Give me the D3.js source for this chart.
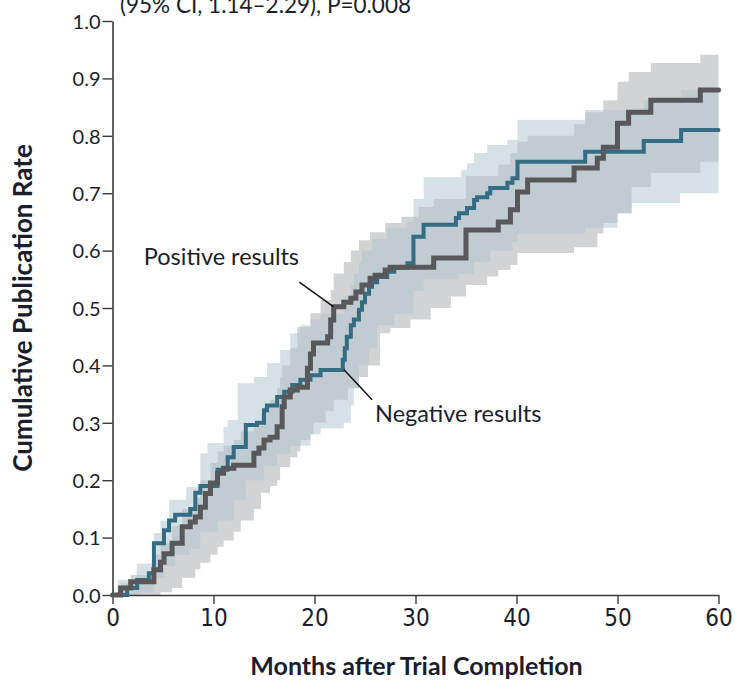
<!DOCTYPE html>
<html>
<head>
<meta charset="utf-8">
<script src="https://cdn.jsdelivr.net/npm/d3@7"></script>
<style>
  body { margin: 0; background: #fff; }
  svg text { font-family: Lato, "Open Sans", sans-serif; fill: #1b1d2b; }
</style>
</head>
<body>
<div id="chart"></div>
<script>
// cumulative publication rate
// [month, rate]
var positiveCurve = [[0,0],[0.8,0.012],[1.8,0.023],[4.1,0.044],[4.75,0.057],[5.1,0.072],[5.9,0.09],[6.9,0.119],
  [7.7,0.127],[8.2,0.136],[8.7,0.153],[9.2,0.177],[9.7,0.195],[10.4,0.212],[11.0,0.221],[12.0,0.226],[14.0,0.247],
  [14.5,0.256],[15.0,0.27],[15.6,0.275],[16.3,0.293],[16.8,0.328],[17.0,0.345],[17.6,0.357],[18.3,0.362],[19.3,0.395],
  [19.6,0.42],[19.9,0.439],[21.3,0.45],[21.6,0.479],[21.9,0.502],[22.9,0.51],[23.6,0.517],[24.1,0.528],[24.7,0.54],
  [25.5,0.552],[26.0,0.557],[27.0,0.566],[27.5,0.571],[31.8,0.587],[35.0,0.636],[38.2,0.65],[39.4,0.671],[40.1,0.702],
  [41.1,0.723],[45.7,0.744],[48.0,0.761],[48.6,0.78],[50.0,0.822],[51.1,0.841],[53.3,0.862],[58.2,0.88],[60,0.88]];

var negativeCurve = [[0,0],[1.45,0.012],[2.44,0.026],[3.6,0.038],[4.1,0.09],[5.1,0.113],[5.6,0.13],[6.2,0.14],
  [7.7,0.15],[8.2,0.178],[8.7,0.19],[10.4,0.218],[11.4,0.24],[12.0,0.258],[13.2,0.296],[14.3,0.3],[15.0,0.322],
  [15.3,0.33],[16.3,0.345],[17.0,0.354],[17.8,0.366],[18.6,0.375],[19.6,0.383],[20.6,0.392],[22.8,0.41],[23.0,0.43],
  [23.2,0.45],[23.6,0.47],[23.9,0.48],[24.4,0.497],[24.7,0.51],[25.0,0.525],[25.4,0.537],[25.7,0.545],[26.2,0.554],
  [27.2,0.563],[27.9,0.57],[29.2,0.578],[29.8,0.624],[30.8,0.645],[34.0,0.657],[34.3,0.665],[35.1,0.674],[35.8,0.688],
  [36.1,0.693],[37.1,0.70],[37.4,0.709],[39.1,0.718],[39.6,0.726],[40.1,0.755],[46.8,0.772],[52.6,0.791],[56.3,0.81],[60,0.81]];

// 95% bands: [month, lower, upper]
var positiveBand = [[0,0,0],[0.8,0,0.02],[1.8,0,0.035],[4.1,0,0.07],[4.75,0.005,0.09],[5.9,0.012,0.12],[6.9,0.03,0.15],
  [8.2,0.045,0.17],[8.7,0.056,0.2],[9.7,0.07,0.23],[10.4,0.084,0.25],[11.0,0.095,0.26],[12.0,0.11,0.27],[12.7,0.13,0.285],
  [14.0,0.15,0.3],[14.7,0.178,0.315],[15.0,0.178,0.33],[15.6,0.19,0.34],[16.3,0.2,0.36],[16.6,0.223,0.38],[16.8,0.223,0.40],
  [17.6,0.24,0.43],[18.3,0.25,0.467],[18.6,0.27,0.467],[19.6,0.28,0.491],[19.9,0.30,0.491],[20.6,0.30,0.514],
  [21.1,0.32,0.514],[21.6,0.32,0.531],[21.9,0.34,0.56],[22.9,0.34,0.58],[23.3,0.36,0.58],[23.6,0.36,0.60],
  [24.4,0.38,0.618],[25.3,0.40,0.618],[25.5,0.40,0.632],[26.5,0.456,0.632],[27.0,0.456,0.648],[27.5,0.465,0.648],
  [28.6,0.465,0.659],[29.5,0.48,0.659],[30.3,0.48,0.676],[31.5,0.50,0.676],[31.8,0.50,0.69],[33.5,0.52,0.69],
  [35.0,0.54,0.73],[37.1,0.555,0.73],[38.2,0.566,0.75],[39.4,0.575,0.77],[40.1,0.596,0.79],[41.1,0.596,0.80],
  [45.7,0.606,0.82],[46.8,0.606,0.841],[48.0,0.63,0.841],[48.6,0.648,0.862],[50.0,0.665,0.894],[51.1,0.665,0.911],
  [51.4,0.711,0.911],[53.3,0.735,0.927],[58.2,0.755,0.941],[60,0.755,0.941]];

var negativeBand = [[0,0,0],[0.5,0,0.026],[2.4,0,0.055],[2.8,0.005,0.055],[4.1,0.03,0.108],[4.75,0.03,0.13],
  [5.1,0.05,0.13],[5.6,0.05,0.166],[6.2,0.07,0.166],[7.3,0.07,0.188],[7.7,0.08,0.188],[8.7,0.11,0.247],[9.4,0.11,0.265],
  [10.4,0.13,0.265],[11.0,0.13,0.293],[11.4,0.13,0.305],[12.0,0.165,0.305],[12.4,0.165,0.369],[13.2,0.2,0.369],
  [14.0,0.2,0.38],[15.0,0.225,0.38],[15.3,0.225,0.404],[16.3,0.245,0.404],[16.6,0.245,0.427],[17.6,0.26,0.456],
  [18.6,0.26,0.47],[19.6,0.28,0.48],[20.6,0.29,0.49],[22.9,0.30,0.52],[23.6,0.33,0.54],[23.9,0.36,0.56],[24.4,0.40,0.58],
  [24.7,0.40,0.60],[25.4,0.43,0.60],[25.7,0.43,0.62],[26.2,0.47,0.62],[27.2,0.47,0.64],[27.9,0.49,0.64],[29.2,0.49,0.65],
  [29.8,0.53,0.69],[30.8,0.55,0.728],[34.3,0.56,0.728],[34.5,0.56,0.74],[35.1,0.56,0.752],[35.8,0.58,0.77],
  [37.1,0.58,0.784],[37.4,0.60,0.784],[39.1,0.60,0.793],[39.6,0.615,0.793],[40.1,0.63,0.828],[46.8,0.64,0.845],
  [50.0,0.665,0.845],[51.4,0.683,0.845],[52.6,0.683,0.862],[56.2,0.70,0.862],[56.3,0.70,0.88],[60,0.70,0.88]];

var xTicks = [0, 10, 20, 30, 40, 50, 60];
var yTicks = [0, 0.1, 0.2, 0.3, 0.4, 0.5, 0.6, 0.7, 0.8, 0.9, 1.0];

var svgWidth = 735, svgHeight = 680;

var svg = d3.select("#chart").append("svg")
  .attr("width", svgWidth)
  .attr("height", svgHeight);

var x = d3.scaleLinear().domain([0, 60]).range([112.5, 718.5]);
var y = d3.scaleLinear().domain([0, 1]).range([595, 21]);

// bands
var band = d3.area()
  .curve(d3.curveStepAfter)
  .x(d => x(d[0]))
  .y0(d => y(d[1]))
  .y1(d => y(d[2]));

svg.append("path").datum(positiveBand)
  .attr("d", band)
  .attr("fill", "#d2d3d5");

svg.append("path").datum(negativeBand)
  .attr("d", band)
  .attr("fill", "#adc3cf")
  .attr("fill-opacity", 0.5);

// axes
var yAxis = d3.axisLeft(y).tickValues(yTicks).tickFormat(d3.format(".1f")).tickSize(10).tickSizeOuter(0).tickPadding(2);
var xAxis = d3.axisBottom(x).tickValues(xTicks).tickSize(9).tickSizeOuter(0).tickPadding(5);

var gy = svg.append("g").attr("transform", "translate(112.5,0)").call(yAxis);
var gx = svg.append("g").attr("transform", "translate(0,595)").call(xAxis);

[gx, gy].forEach(function(g) {
  g.select(".domain").attr("stroke", "#3a3a3a").attr("stroke-width", 1.6);
  g.selectAll(".tick line").attr("stroke", "#3a3a3a").attr("stroke-width", 1.4);
  g.selectAll(".tick text").attr("fill", "#1b1d2b");
});
gy.selectAll(".tick text")
  .attr("font-size", 20)
  .attr("dy", "0.36em")
  .style("font-family", "Lato, sans-serif");
gx.selectAll(".tick text")
  .attr("font-size", 24)
  .attr("dy", "0.72em")
  .style("font-family", "'Liberation Sans Narrow', 'DejaVu Sans Condensed', sans-serif")
  .style("font-stretch", "condensed");

// curves
var step = d3.line()
  .curve(d3.curveStepAfter)
  .x(d => x(d[0]))
  .y(d => y(d[1]));

svg.append("path").datum(negativeCurve)
  .attr("d", step)
  .attr("fill", "none")
  .attr("stroke", "#336c83")
  .attr("stroke-width", 4)
  .attr("stroke-linecap", "round");

svg.append("path").datum(positiveCurve)
  .attr("d", step)
  .attr("fill", "none")
  .attr("stroke", "#58585a")
  .attr("stroke-width", 5)
  .attr("stroke-linecap", "round");

// labels + leaders
svg.append("line")
  .attr("x1", x(18.5)).attr("y1", y(0.545))
  .attr("x2", x(21.9)).attr("y2", y(0.502))
  .attr("stroke", "#111").attr("stroke-width", 1.5);
svg.append("text")
  .attr("x", x(3.1)).attr("y", y(0.575))
  .attr("font-size", 23.5)
  .text("Positive results");

svg.append("line")
  .attr("x1", x(22.9)).attr("y1", y(0.393))
  .attr("x2", x(25.7)).attr("y2", y(0.34))
  .attr("stroke", "#111").attr("stroke-width", 1.5);
svg.append("text")
  .attr("x", x(26.0)).attr("y", y(0.302))
  .attr("font-size", 23.5)
  .text("Negative results");

// axis titles
svg.append("text")
  .attr("x", (x(0) + x(60)) / 2 + 1)
  .attr("y", 675)
  .attr("text-anchor", "middle")
  .attr("font-size", 25)
  .attr("font-weight", "bold")
  .text("Months after Trial Completion");

svg.append("text")
  .attr("transform", "translate(32," + y(0.5) + ") rotate(-90)")
  .attr("text-anchor", "middle")
  .attr("font-size", 26)
  .attr("font-weight", "bold")
  .text("Cumulative Publication Rate");

// clipped title line at the top
svg.append("text")
  .attr("x", 120)
  .attr("y", 13)
  .attr("font-size", 22.5)
  .attr("fill", "#1c2445")
  .text("(95% CI, 1.14\u20132.29), P=0.008");
</script>
</body>
</html>
